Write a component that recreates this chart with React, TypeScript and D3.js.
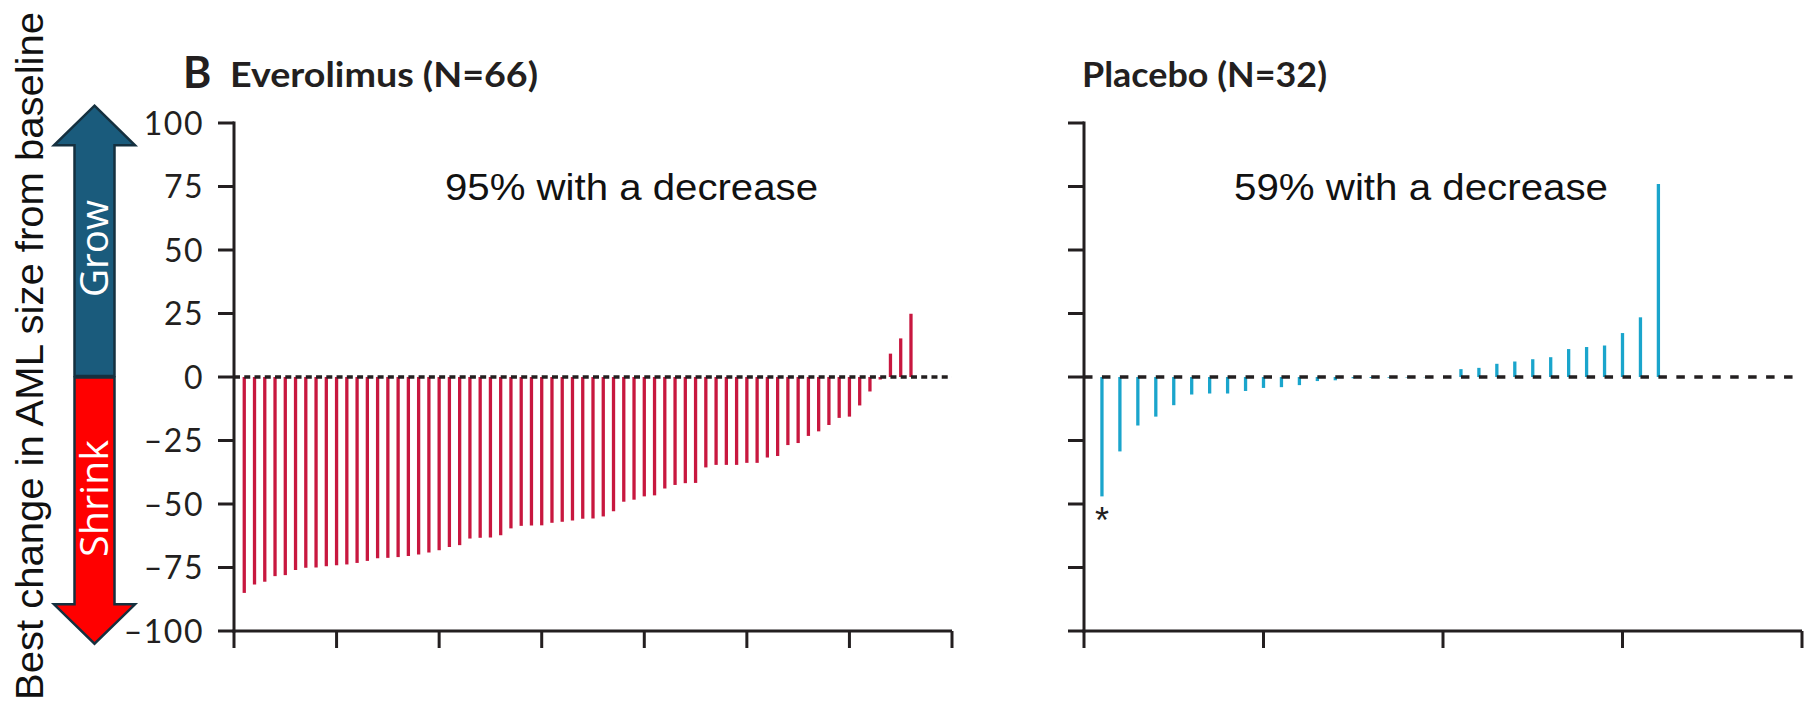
import React from "react";
import * as d3 from "d3";

// ---- data ----
const everolimusValues: number[] = [
  -85.0, -81.7, -80.6, -78.4, -78.0, -76.0, -75.1, -75.0, -74.5, -74.1,
  -73.8, -73.2, -72.4, -71.4, -71.2, -70.9, -70.5, -69.9, -69.1, -68.2,
  -66.9, -66.2, -63.6, -63.3, -63.2, -62.3, -59.6, -58.6, -58.5, -58.4,
  -57.4, -57.0, -56.5, -55.8, -55.7, -54.9, -52.9, -49.1, -48.3, -47.0,
  -46.6, -43.9, -42.5, -41.8, -41.7, -35.6, -34.6, -34.6, -34.6, -33.8,
  -33.8, -31.7, -31.1, -26.8, -26.0, -23.2, -21.4, -18.9, -16.1, -15.6,
  -11.2, -5.7, -1.0, 9.2, 15.2, 24.9,
];
const placeboValues: number[] = [
  -47.0, -29.3, -19.1, -15.6, -11.1, -6.9, -6.5, -6.5, -5.5, -4.3,
  -4.0, -3.2, -1.6, -1.3, -0.5, -0.4, -0.3, -0.2, -0.1, 0,
  3.1, 3.6, 5.2, 6.1, 7.0, 7.8, 11.0, 11.8, 12.4, 17.3,
  23.5, 76.0,
];
const yTickValues: number[] = [100, 75, 50, 25, 0, -25, -50, -75, -100];
const everolimusXTicks: number[] = [0, 10, 20, 30, 40, 50, 60, 70];
const placeboXTicks: number[] = [0, 10, 20, 30, 40];
const panelLabel = "B";
const everolimusTitle = "Everolimus (N=66)";
const placeboTitle = "Placebo (N=32)";
const everolimusNote = "95% with a decrease";
const placeboNote = "59% with a decrease";
const yAxisTitle = "Best change in AML size from baseline";
const growLabel = "Grow";
const shrinkLabel = "Shrink";

// ---- layout ----
const W = 1806;
const H = 707;
const INK = "#231f20";
const RED = "#c8173f";
const BLUE = "#1aa5cc";

const y = d3.scaleLinear().domain([-100, 100]).range([631, 123]);
const xLeft = d3.scaleLinear().domain([0, 70]).range([234, 952]);
const xRight = d3.scaleLinear().domain([0, 40]).range([1084, 1802]);

const fmt = (v: number) => (v < 0 ? "\u2013" + Math.abs(v) : String(v));

type PanelProps = {
  x: d3.ScaleLinear<number, number>;
  values: number[];
  ticks: number[];
  color: string;
  showLabels: boolean;
  dash: string;
};

function Panel({ x, values, ticks, color, showLabels, dash }: PanelProps) {
  const [x0, x1] = x.range();
  const yTop = y(100);
  const yBot = y(-100);
  return (
    <g>
      {/* bars */}
      {values.map((v, i) =>
        v === 0 ? null : (
          <line
            key={i}
            x1={x(i + 1)}
            x2={x(i + 1)}
            y1={y(0)}
            y2={y(v)}
            stroke={color}
            strokeWidth={3.3}
          />
        )
      )}
      {/* zero dashed line */}
      <line
        x1={x0}
        x2={x1}
        y1={y(0)}
        y2={y(0)}
        stroke={INK}
        strokeWidth={3.4}
        strokeDasharray={dash}
      />
      {/* y axis */}
      <line x1={x0} x2={x0} y1={yTop - 1.5} y2={yBot + 1.5} stroke={INK} strokeWidth={3} />
      {yTickValues.map((t) => (
        <g key={t}>
          <line x1={x0 - 16} x2={x0} y1={y(t)} y2={y(t)} stroke={INK} strokeWidth={3} />
          {showLabels && (
            <text
              x={x0 - 30}
              y={y(t)}
              dy="0.36em"
              textAnchor="end"
              fontFamily="Lato, 'Open Sans', sans-serif"
              fontSize={32}
              letterSpacing={1.5}
              fill={INK}
            >
              {fmt(t)}
            </text>
          )}
        </g>
      ))}
      {/* x axis */}
      <line x1={x0 - 1.5} x2={x1} y1={yBot} y2={yBot} stroke={INK} strokeWidth={3} />
      {ticks.map((t) => (
        <line key={t} x1={x(t)} x2={x(t)} y1={yBot} y2={yBot + 17} stroke={INK} strokeWidth={3} />
      ))}
    </g>
  );
}

export default function App() {
  const cx = 94.5;
  const shaftHalf = 20;
  const headHalf = 40.5;
  const upTip = y(100) - 17.3;
  const upBase = y(91.2);
  const zero = y(0);
  const downBase = y(-89.5);
  const downTip = y(-105);
  const upPts = [
    [cx, upTip],
    [cx + headHalf, upBase],
    [cx + shaftHalf, upBase],
    [cx + shaftHalf, zero - 1],
    [cx - shaftHalf, zero - 1],
    [cx - shaftHalf, upBase],
    [cx - headHalf, upBase],
  ];
  const downPts = [
    [cx - shaftHalf, zero + 0.5],
    [cx + shaftHalf, zero + 0.5],
    [cx + shaftHalf, downBase],
    [cx + headHalf, downBase],
    [cx, downTip],
    [cx - headHalf, downBase],
    [cx - shaftHalf, downBase],
  ];
  const pts = (p: number[][]) => p.map((d) => d.join(",")).join(" ");

  return (
    <svg
      width={W}
      height={H}
      viewBox={`0 0 ${W} ${H}`}
      style={{ position: "absolute", left: 0, top: 0, background: "#fff" }}
    >
      <rect x={0} y={0} width={W} height={H} fill="#fff" />

      {/* y-axis title */}
      <text
        transform={`translate(43, 356) rotate(-90)`}
        textAnchor="middle"
        fontFamily="'Liberation Sans', Arial, sans-serif"
        fontSize={39}
        textLength={688}
        lengthAdjust="spacingAndGlyphs"
        fill="#111"
      >
        {yAxisTitle}
      </text>

      {/* grow / shrink arrows */}
      <polygon points={pts(upPts)} fill="#1a5b7c" stroke="#15303f" strokeWidth={2.5} strokeLinejoin="miter" />
      <polygon points={pts(downPts)} fill="#ff0000" stroke="#15303f" strokeWidth={2.5} strokeLinejoin="miter" />
      <text
        transform={`translate(108, 248.5) rotate(-90)`}
        textAnchor="middle"
        fontFamily="'Open Sans', sans-serif"
        fontSize={38}
        textLength={97}
        lengthAdjust="spacingAndGlyphs"
        fill="#fff"
      >
        {growLabel}
      </text>
      <text
        transform={`translate(108, 498.5) rotate(-90)`}
        textAnchor="middle"
        fontFamily="'Open Sans', sans-serif"
        fontSize={38}
        textLength={117}
        lengthAdjust="spacingAndGlyphs"
        fill="#fff"
      >
        {shrinkLabel}
      </text>

      {/* titles */}
      <text x={183} y={88} fontFamily="Lato, sans-serif" fontWeight={700} fontSize={43} fill={INK}>
        {panelLabel}
      </text>
      <text
        x={230}
        y={87}
        fontFamily="Lato, sans-serif"
        fontWeight={700}
        fontSize={34}
        textLength={308}
        lengthAdjust="spacingAndGlyphs"
        fill={INK}
      >
        {everolimusTitle}
      </text>
      <text
        x={1082}
        y={87}
        fontFamily="Lato, sans-serif"
        fontWeight={700}
        fontSize={34}
        textLength={245}
        lengthAdjust="spacingAndGlyphs"
        fill={INK}
      >
        {placeboTitle}
      </text>

      {/* annotations */}
      <text
        x={445}
        y={200}
        fontFamily="'Liberation Sans', Arial, sans-serif"
        fontSize={37}
        textLength={373}
        lengthAdjust="spacingAndGlyphs"
        fill="#111"
      >
        {everolimusNote}
      </text>
      <text
        x={1234}
        y={200}
        fontFamily="'Liberation Sans', Arial, sans-serif"
        fontSize={37}
        textLength={374}
        lengthAdjust="spacingAndGlyphs"
        fill="#111"
      >
        {placeboNote}
      </text>

      <Panel x={xLeft} values={everolimusValues} ticks={everolimusXTicks} color={RED} showLabels={true} dash="6,4.257" />
      <Panel x={xRight} values={placeboValues} ticks={placeboXTicks} color={BLUE} showLabels={false} dash="8.5,9.45" />

      {/* asterisk under first placebo bar */}
      <text
        x={xRight(1)}
        y={533}
        textAnchor="middle"
        fontFamily="'Liberation Sans', Arial, sans-serif"
        fontSize={36}
        fill={INK}
      >
        *
      </text>
    </svg>
  );
}
